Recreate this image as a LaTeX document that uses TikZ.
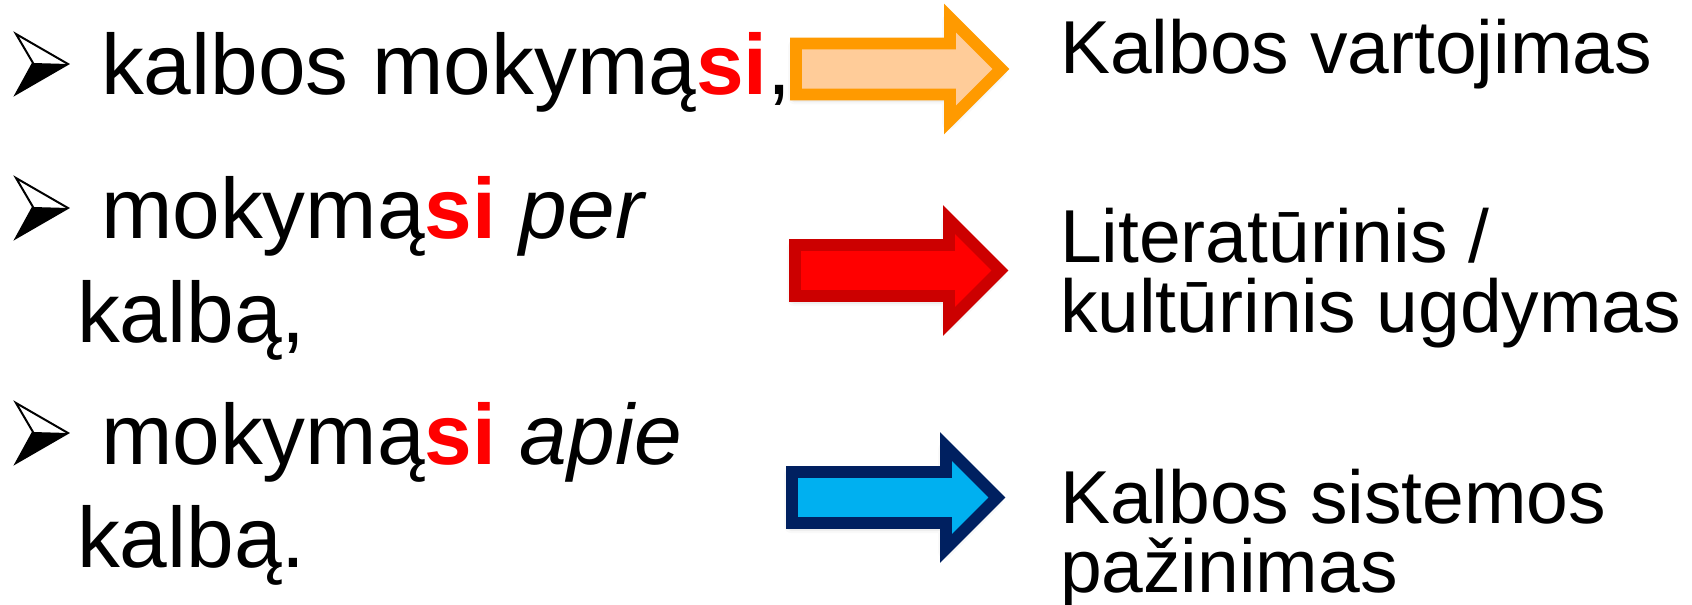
\documentclass[tikz,border=0pt]{standalone}
\usepackage{fontspec}
\setmainfont{Liberation Sans}
\usetikzlibrary{shadows.blur}
\definecolor{orangeS}{HTML}{FF9A00}
\definecolor{orangeF}{HTML}{FFCC99}
\definecolor{redS}{HTML}{CC0000}
\definecolor{redF}{HTML}{FF0000}
\definecolor{blueS}{HTML}{002060}
\definecolor{blueF}{HTML}{00B0F0}
\newcommand\rsi{\textcolor{redF}{\textbf{si}}}
\tikzset{
  lt/.style={anchor=base west, inner sep=0pt, outer sep=0pt, font=\fontsize{86}{100}\selectfont},
  rt/.style={anchor=base west, inner sep=0pt, outer sep=0pt, font=\fontsize{75.3}{86}\selectfont},
  bul/.pic={
    \draw[line width=2, line join=miter, fill=white] (15,-61) -- (67,-31) -- (15,-1) -- (32,-32) -- cycle;
    \fill (32,-32) -- (67,-31) -- (15,-1) -- cycle;
  },
  barrow/.pic={
    \path[pic actions, line width=12, line join=miter,
      blur shadow={shadow xshift=-1bp, shadow yshift=-3bp, shadow blur radius=7bp, shadow opacity=35}]
      (6,-25.5) -- (160,-25.5) -- (160,-51) -- (211,0) -- (160,51) -- (160,25.5) -- (6,25.5) -- cycle;
  }
}
\begin{document}
\begin{tikzpicture}[x=1bp,y=-1bp]
\useasboundingbox (0,0) rectangle (1692,605);
% bullets
\pic (b1) at (1,95) {bul};
\pic (b2) at (1,239) {bul};
\pic (b3) at (1,464) {bul};
% left text
\node[lt] (l1) at (101,95) {kalbos mokymą\rsi,};
\node[lt] (l2a) at (101,239) {mokymą\rsi{} \textit{per}};
\node[lt] (l2b) at (77,342) {kalbą,};
\node[lt] (l3a) at (101,464) {mokymą\rsi{} \textit{apie}};
\node[lt] (l3b) at (77,567) {kalbą.};
% arrows
\pic[draw=orangeS, fill=orangeF] (a1) at (790,69) {barrow};
\pic[draw=redS, fill=redF] (a2) at (789,270.5) {barrow};
\pic[draw=blueS, fill=blueF] (a3) at (786,497.5) {barrow};
% right text
\node[rt] (r1) at (1060,74) {Kalbos vartojimas};
\node[rt] (r2a) at (1060,262) {Literatūrinis /};
\node[rt] (r2b) at (1060,332) {kultūrinis ugdymas};
\node[rt] (r3a) at (1060,523) {Kalbos sistemos};
\node[rt] (r3b) at (1060,592) {pažinimas};
\end{tikzpicture}
\end{document}
